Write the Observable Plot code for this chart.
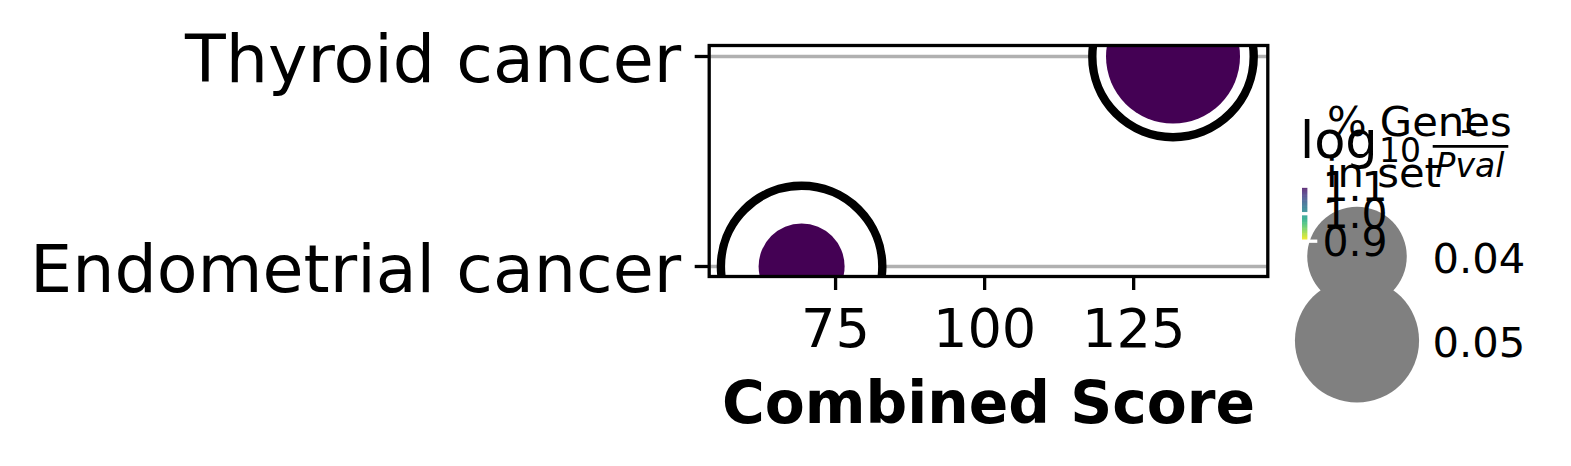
<!DOCTYPE html>
<html>
<head>
<meta charset="utf-8">
<script src="https://cdn.jsdelivr.net/npm/d3@7"></script>
<script src="https://cdn.jsdelivr.net/npm/@observablehq/plot@0.6"></script>
<style>
  html, body { margin: 0; padding: 0; background: white; }
  #wrap { position: relative; width: 1571px; height: 466px; overflow: hidden; font-family: "DejaVu Sans", sans-serif; }
  #wrap > * { position: absolute; }
</style>
</head>
<body>
<div id="wrap"></div>
<script>
// ---- data ----
const categories = ["Thyroid cancer", "Endometrial cancer"];
const combinedScore = [131.6, 69.3];
const genePct = [0.054, 0.0345];          // % genes in set (hits ratio)
const log10InvP = [1.0, 1.0];
const xTicks = [75, 100, 125];
const sizeLegendValues = [0.04, 0.05];
const colorbarTicks = [0.9, 1.0, 1.1];
const xLabel = "Combined Score";

const data = categories.map((c, i) => ({term: c, score: combinedScore[i], pct: genePct[i], logp: log10InvP[i]}));
const FONT = "DejaVu Sans";
const rScale = {type: "linear", domain: d3.extent(genePct), range: [43, 67]};
const purple = d3.interpolateViridis(0);
const wrap = document.getElementById("wrap");

// ---- main chart ----
const main = Plot.plot({
  width: 1571, height: 466,
  marginLeft: 708.7, marginRight: 1571 - 1267.3, marginTop: 45, marginBottom: 466 - 276,
  style: {fontFamily: FONT, background: "transparent", color: "black"},
  x: {domain: [53.8, 147.5]},
  y: {type: "point", domain: categories, padding: 0, insetTop: 11, insetBottom: 10},
  r: rScale,
  marks: [
    Plot.gridY({stroke: "#b0b0b0", strokeOpacity: 1, strokeWidth: 3.3}),
    Plot.dot(data, {x: "score", y: "term", r: 80.7, fill: "white", stroke: "black", strokeWidth: 8.4, clip: true}),
    Plot.dot(data, {x: "score", y: "term", r: "pct", fill: purple, stroke: null, clip: true}),
    Plot.frame({stroke: "black", strokeWidth: 3.3}),
    Plot.axisX({ticks: xTicks, tickSize: 14, tickPadding: 18, fontSize: 54.2, strokeWidth: 3.3, label: null}),
    Plot.axisY({tickSize: 14, tickFormat: () => "", strokeWidth: 3.3, label: null}),
    Plot.axisY({tickSize: 0, tickPadding: 28, fontSize: 66.7, dy: 4, label: null}),
    Plot.text([xLabel], {frameAnchor: "bottom", lineAnchor: "middle", dy: 128, fontSize: 58.3, fontWeight: "bold", text: d => d})
  ]
});
main.style.left = "0px"; main.style.top = "0px";
wrap.appendChild(main);

// ---- size legend ----
const sizeLeg = Plot.plot({
  width: 291, height: 296,
  marginLeft: 76.5, marginRight: 291 - 77.5, marginTop: 86, marginBottom: 296 - 170,
  style: {fontFamily: FONT, background: "transparent", color: "black", overflow: "visible"},
  y: {type: "point", domain: sizeLegendValues, padding: 0, axis: null},
  r: rScale,
  marks: [
    Plot.dot(sizeLegendValues, {y: d => d, r: d => d, frameAnchor: "left", fill: "#808080", stroke: null}),
    Plot.text(sizeLegendValues, {y: d => d, text: d => d3.format(".2f")(d), frameAnchor: "left", lineAnchor: "middle", dx: 75.5, dy: 3, textAnchor: "start", fontSize: 41.7})
  ]
});
sizeLeg.style.left = "1280px"; sizeLeg.style.top = "170px";
wrap.appendChild(sizeLeg);

// ---- colorbar ----
const cbarSteps = d3.range(0.9, 1.1, 0.002);
const cbar = Plot.plot({
  width: 120, height: 100,
  marginLeft: 12, marginRight: 120 - 17.3, marginTop: 15.7, marginBottom: 100 - 70.7,
  style: {fontFamily: FONT, background: "transparent", color: "black", overflow: "visible"},
  y: {domain: [0.9, 1.1]},
  color: {type: "linear", scheme: "viridis", reverse: true, domain: [0.9, 1.1]},
  marks: [
    Plot.rect(cbarSteps, {y1: d => d, y2: d => Math.min(1.1, d + 0.0025), fill: d => d + 0.001}),
    Plot.ruleY(colorbarTicks, {stroke: "white", strokeWidth: 3.3, insetRight: -10}),
    Plot.axisY({anchor: "right", ticks: colorbarTicks, tickSize: 0, tickPadding: 14.7, tickFormat: ".1f", fontSize: 41, label: null, dy: 1.5})
  ]
});
cbar.style.left = "1290px"; cbar.style.top = "170px";
wrap.appendChild(cbar);

// ---- legend titles ----
const titles = d3.create("svg").attr("width", 1571).attr("height", 466)
  .style("left", "0px").style("top", "0px").style("pointer-events", "none")
  .attr("font-family", FONT);
titles.append("text").attr("x", 1327).attr("y", 135.5).attr("font-size", 41.7).text("% Genes");
titles.append("text").attr("x", 1326).attr("y", 186.5).attr("font-size", 41.7).text("in set");
titles.append("text").attr("x", 1300).attr("y", 158).attr("font-size", 51).text("log");
titles.append("text").attr("x", 1379).attr("y", 162).attr("font-size", 33).text("10");
titles.append("text").attr("x", 1468.5).attr("y", 132.5).attr("font-size", 33).attr("text-anchor", "middle").text("1");
titles.append("line").attr("x1", 1432.7).attr("x2", 1508.3).attr("y1", 146.3).attr("y2", 146.3).attr("stroke", "black").attr("stroke-width", 2.7);
titles.append("text").attr("x", 1470).attr("y", 176.7).attr("font-size", 33).attr("font-style", "italic").attr("text-anchor", "middle").text("Pval");
wrap.appendChild(titles.node());
</script>
</body>
</html>
